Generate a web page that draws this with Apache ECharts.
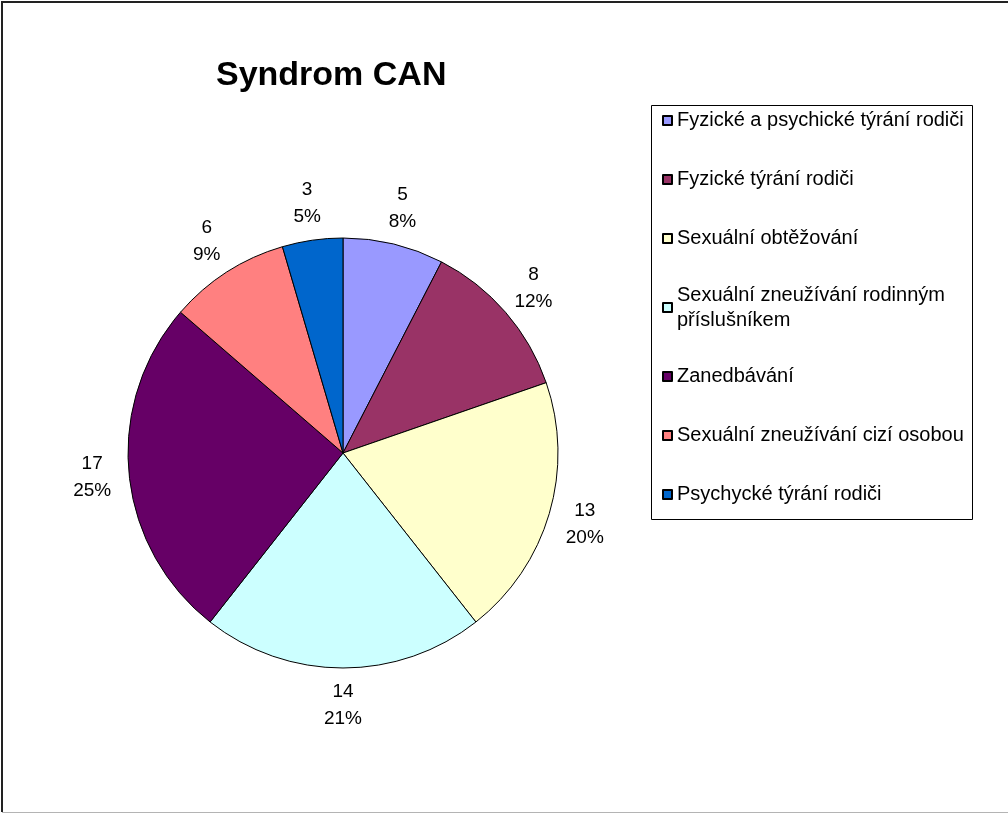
<!DOCTYPE html>
<html>
<head>
<meta charset="utf-8">
<script src="https://cdn.jsdelivr.net/npm/echarts@6/dist/echarts.min.js"></script>
<style>
html,body{margin:0;padding:0;background:#fff;}
#chart{width:1008px;height:814px;}
</style>
</head>
<body>
<div id="chart"></div>
<script>
const categories = [
  'Fyzické a psychické týrání rodiči',
  'Fyzické týrání rodiči',
  'Sexuální obtěžování',
  'Sexuální zneužívání rodinným příslušníkem',
  'Zanedbávání',
  'Sexuální zneužívání cizí osobou',
  'Psychycké týrání rodiči'
];
const legendLabels = [
  'Fyzické a psychické týrání rodiči',
  'Fyzické týrání rodiči',
  'Sexuální obtěžování',
  'Sexuální zneužívání rodinným\npříslušníkem',
  'Zanedbávání',
  'Sexuální zneužívání cizí osobou',
  'Psychycké týrání rodiči'
];
const values = [5, 8, 13, 14, 17, 6, 3];
const percentLabels = ['8%', '12%', '20%', '21%', '25%', '9%', '5%'];
const colors = ['#9999FF', '#993366', '#FFFFCC', '#CCFFFF', '#660066', '#FF8080', '#0066CC'];

const FONT = '"Liberation Sans", Arial, sans-serif';
const chart = echarts.init(document.getElementById('chart'), null, {renderer: 'canvas'});

const pieData = categories.map((n, i) => ({name: n, value: values[i], itemStyle: {color: colors[i]}}));
const labelData = categories.map((n, i) => ({name: n, value: values[i]}));

chart.setOption({
  animation: false,
  backgroundColor: '#ffffff',
  title: {
    text: 'Syndrom CAN',
    left: 216,
    top: 56,
    padding: 0,
    textStyle: {fontFamily: FONT, fontWeight: 'bold', fontSize: 34, color: '#000', lineHeight: 40}
  },
  legend: {
    orient: 'vertical',
    left: 662,
    top: 108,
    padding: 0,
    itemGap: 34,
    itemWidth: 9,
    itemHeight: 9,
    icon: 'rect',
    selectedMode: false,
    data: categories,
    formatter: name => legendLabels[categories.indexOf(name)],
    textStyle: {
      fontFamily: FONT, fontSize: 20, color: '#000',
      lineHeight: 25, height: 25
    }
  },
  graphic: [
    {type: 'rect', shape: {x: 651.5, y: 105.5, width: 321, height: 414}, style: {fill: 'none', stroke: '#000', lineWidth: 1}, z: -1},
    {type: 'polyline', shape: {points: [[2, 812], [2, 2], [1008, 2]]}, style: {stroke: '#222', lineWidth: 2, fill: 'none'}},
    {type: 'line', shape: {x1: 2, y1: 812.5, x2: 1008, y2: 812.5}, style: {stroke: '#b4b4b4', lineWidth: 1}}
  ],
  series: [
    {
      type: 'pie',
      center: [343, 453],
      radius: [0, 215],
      startAngle: 90,
      clockwise: true,
      silent: true,
      label: {show: false},
      labelLine: {show: false},
      itemStyle: {borderColor: '#000', borderWidth: 1},
      emphasis: {disabled: true},
      data: pieData
    },
    {
      type: 'pie',
      center: [343, 453],
      radius: [215, 283],
      startAngle: 90,
      clockwise: true,
      silent: true,
      legendHoverLink: false,
      itemStyle: {color: 'rgba(0,0,0,0)', borderWidth: 0},
      emphasis: {disabled: true},
      label: {
        show: true,
        position: 'inside',
        formatter: p => p.value + '\n' + percentLabels[p.dataIndex],
        fontFamily: FONT,
        fontSize: 19,
        lineHeight: 27,
        color: '#000',
        align: 'center'
      },
      labelLine: {show: false},
      data: labelData
    }
  ]
});
</script>
</body>
</html>
